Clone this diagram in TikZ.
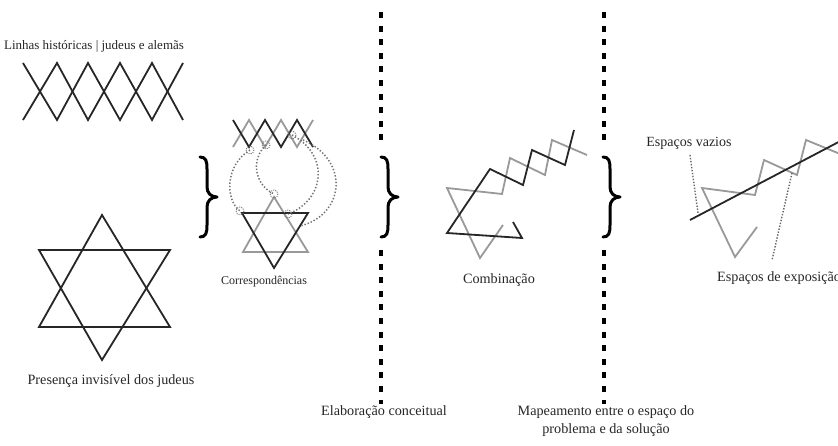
\documentclass[tikz,border=0pt]{standalone}
\usepackage{fontspec}
\setmainfont{Liberation Serif}
\begin{document}
\begin{tikzpicture}[x=1pt,y=-1pt,
  dk/.style={draw=black!85, line width=1.8pt, line join=miter},
  gr/.style={draw=black!40, line width=1.8pt, line join=miter},
  vdots/.style={draw=black, line width=4.5pt, dash pattern=on 6pt off 7.6pt},
  fdots/.style={draw=black!60, line width=1.4pt, dash pattern=on 1.4pt off 1.6pt},
  cdots/.style={draw=black!55, line width=1.5pt, dash pattern=on 1.4pt off 1.9pt},
  lbl/.style={font=\fontsize{14.2}{18}\selectfont, inner sep=0pt, text=black!85},
  curly/.pic={\draw[line width=3pt, line cap=round, line join=round]
     (0,0) .. controls (6,0) and (7,4) .. (7,12) -- (7,30)
     .. controls (7,36) and (11,40) .. (17,40)
     .. controls (11,40) and (7,44) .. (7,50) -- (7,68)
     .. controls (7,76) and (6,80) .. (0,80);}]
\useasboundingbox (0,0) rectangle (838,446);
\clip (0,0) rectangle (838,446);

% labels
\node[lbl, font=\fontsize{13}{16}\selectfont] (t1) at (94,46) {Linhas históricas | judeus e alemãs};
\node[lbl] (t2) at (111,381) {Presença invisível dos judeus};
\node[lbl, font=\fontsize{12}{15}\selectfont] (t3) at (264,282) {Correspondências};
\node[lbl] (t4) at (499,280) {Combinação};
\node[lbl] (t5) at (384,412) {Elaboração conceitual};
\node[lbl, align=center] (t6) at (606,421) {Mapeamento entre o espaço do\\problema e da solução};
\node[lbl, font=\fontsize{14}{17}\selectfont] (t7) at (689,143) {Espaços vazios};
\node[lbl, anchor=west] (t8) at (717,278) {Espaços de exposição};

% historical lines
\draw[dk] (23,63) -- (57,120) -- (88,63) -- (120,120) -- (152,63) -- (183,120);
\draw[dk] (23,120) -- (57,63) -- (88,120) -- (120,63) -- (152,120) -- (183,63);

% star of David
\draw[dk] (102,215) -- (39,327) -- (170,327) -- cycle;
\draw[dk] (39,250) -- (170,250) -- (102,360) -- cycle;

% braces
\pic (b1) at (200,157) {curly};
\pic (b2) at (381,157) {curly};
\pic (b3) at (603,157) {curly};

% vertical dotted separators
\draw[vdots] (381,12) -- (381,146);
\draw[vdots] (381,250) -- (381,404);
\draw[vdots] (604,12) -- (604,146);
\draw[vdots] (604,250) -- (604,404);

% correspondences
\draw[gr] (233,147) -- (249,120) -- (265,147) -- (281,120) -- (297,147) -- (313,120);
\draw[dk] (233,120) -- (249,147) -- (265,120) -- (281,147) -- (297,120) -- (313,147);
\draw[gr] (274,197) -- (243,252) -- (308,252) -- cycle;
\draw[dk] (242,213) -- (308,213) -- (274,268) -- cycle;
\coordinate (z1) at (250,150);
\coordinate (z2) at (266,145);
\coordinate (z3) at (292,135);
\coordinate (z4) at (303,140);
\coordinate (s1) at (240,211);
\coordinate (s2) at (274,194);
\coordinate (s3) at (288,214);
\coordinate (s4) at (300,226);
\draw[cdots] (z1) .. controls (225,165) and (225,200) .. (s1);
\draw[cdots] (z2) .. controls (250,160) and (255,185) .. (s2);
\draw[cdots] (z3) .. controls (330,155) and (325,200) .. (s3);
\draw[cdots] (z4) .. controls (350,160) and (345,215) .. (s4);
\foreach \p in {z1,z2,z3,s1,s2,s3}
  \draw[cdots, line width=0.9pt, dash pattern=on 1pt off 1.2pt] (\p) circle (4);

% combination
\draw[gr] (587,155) -- (552,140) -- (545,175) -- (510,158) -- (502,194) -- (447,188) -- (480,258) -- (503,225);
\draw[dk] (513,222) -- (522,238) -- (447,233) -- (490,169) -- (523,185) -- (532,150) -- (565,165) -- (574,130);

% exposition spaces
\draw[gr] (757,227) -- (735,257) -- (702,188) -- (755,195) -- (764,160) -- (797,175) -- (806,140) -- (850,158);
\draw[dk] (690,220) -- (850,136);
\draw[fdots] (690,155) -- (698,213);
\draw[fdots] (792,173) -- (772,260);
\end{tikzpicture}
\end{document}
